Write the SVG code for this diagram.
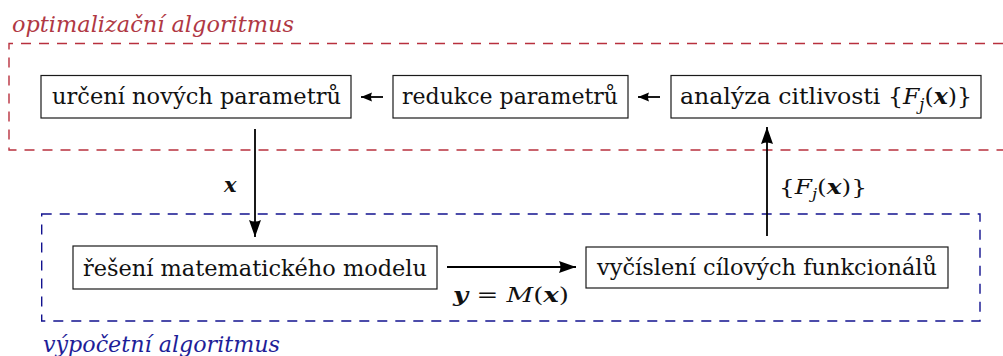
<svg xmlns="http://www.w3.org/2000/svg" width="1003" height="356" viewBox="0 0 1003 356">
<style>
  .box { fill: #fff; stroke: #1a1a1a; stroke-width: 1.2; }
  .t { font-family: 'DejaVu Serif', 'Liberation Serif', serif; font-size: 23px; fill: #111; }
  .m { font-family: 'DejaVu Serif', 'Liberation Serif', serif; fill: #111; }
  .it { font-style: italic; }
  .bi { font-style: italic; font-weight: bold; }
  .edge { stroke: #000; stroke-width: 1.8; fill: none; }
  .red { stroke: #b8303e; stroke-width: 1.4; fill: none; stroke-dasharray: 10 8; }
  .blue { stroke: #12128f; stroke-width: 1.4; fill: none; stroke-dasharray: 10 8; }
</style>
<defs>
  <marker id="big" markerUnits="userSpaceOnUse" markerWidth="18" markerHeight="12" refX="17" refY="6" orient="auto">
    <path d="M0,0 L17,6 L0,12 Q3,6 0,0 Z" fill="#000"/>
  </marker>
  <marker id="small" markerUnits="userSpaceOnUse" markerWidth="12" markerHeight="10" refX="11" refY="4.5" orient="auto">
    <path d="M0,0 L11,4.5 L0,9 Q2,4.5 0,0 Z" fill="#000"/>
  </marker>
</defs>

<g id="optimalizacni-algoritmus">
  <path class="red" d="M1003,43.5 H9 V150 H1003"/>
  <text x="12" y="32" class="t it" style="fill:#b03844" textLength="282" lengthAdjust="spacingAndGlyphs">optimalizační algoritmus</text>
</g>

<g id="vypocetni-algoritmus">
  <rect class="blue" x="41.7" y="214" width="938.3" height="107"/>
  <text x="43" y="352" class="t it" style="fill:#1e1e98" textLength="237" lengthAdjust="spacingAndGlyphs">výpočetní algoritmus</text>
</g>

<g id="connectors">
  <line class="edge" x1="383" y1="97" x2="361" y2="97" marker-end="url(#small)"/>
  <line class="edge" x1="660" y1="97" x2="638" y2="97" marker-end="url(#small)"/>
  <line class="edge" x1="255" y1="129" x2="255" y2="237" marker-end="url(#big)"/>
  <line class="edge" x1="447" y1="267" x2="576" y2="267" marker-end="url(#big)"/>
  <line class="edge" x1="767" y1="236" x2="767" y2="127" marker-end="url(#big)"/>
  <text class="m bi" font-size="21" x="224" y="192">x</text>
  <text id="label-y" class="m" font-size="21" x="453" y="302" textLength="116" lengthAdjust="spacingAndGlyphs"><tspan class="bi">y</tspan> = <tspan class="it">M</tspan>(<tspan class="bi">x</tspan>)</text>
  <text id="label-F" class="m" font-size="21" x="779" y="194" textLength="88" lengthAdjust="spacingAndGlyphs">{<tspan class="it">F</tspan><tspan class="it" font-size="14" dy="5">j</tspan><tspan dy="-5">(</tspan><tspan class="bi">x</tspan>)}</text>
</g>

<g id="urceni">
  <rect class="box" x="41" y="75.5" width="310" height="42.5"/>
  <text class="t" x="52" y="104" textLength="289" lengthAdjust="spacingAndGlyphs">určení nových parametrů</text>
</g>

<g id="redukce">
  <rect class="box" x="393" y="75.5" width="235" height="42.5"/>
  <text class="t" x="402" y="104" textLength="216" lengthAdjust="spacingAndGlyphs">redukce parametrů</text>
</g>

<g id="analyza">
  <rect class="box" x="671" y="75.5" width="310" height="42.5"/>
  <text class="t" x="680" y="104" textLength="292" lengthAdjust="spacingAndGlyphs">analýza citlivosti {<tspan class="it">F</tspan><tspan class="it" font-size="16" dy="6">j</tspan><tspan dy="-6">(</tspan><tspan class="bi">x</tspan>)}</text>
</g>

<g id="reseni">
  <rect class="box" x="73" y="246" width="364" height="43"/>
  <text class="t" x="83" y="276" textLength="344" lengthAdjust="spacingAndGlyphs">řešení matematického modelu</text>
</g>

<g id="vycisleni">
  <rect class="box" x="586" y="247" width="362" height="41"/>
  <text class="t" x="597" y="275" textLength="340" lengthAdjust="spacingAndGlyphs">vyčíslení cílových funkcionálů</text>
</g>
</svg>
